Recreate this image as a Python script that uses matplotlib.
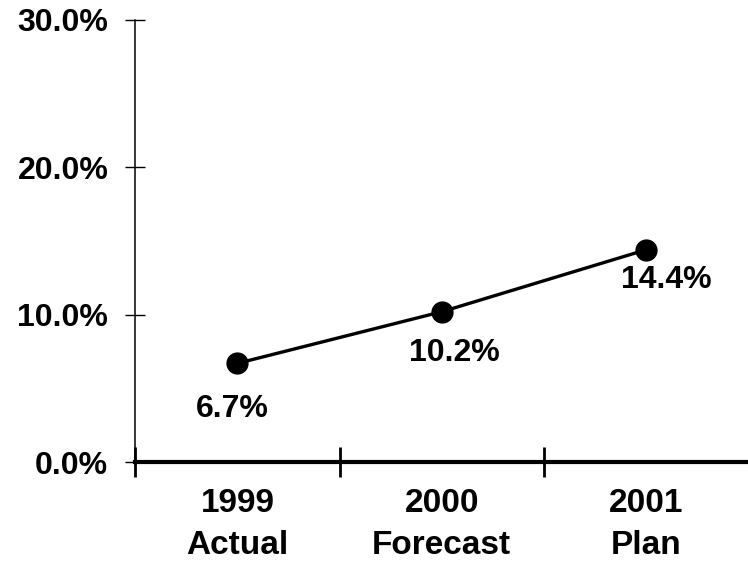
import matplotlib.pyplot as plt

# data
categories = ["1999\nActual", "2000\nForecast", "2001\nPlan"]
values = [6.7, 10.2, 14.4]
labels = ["6.7%", "10.2%", "14.4%"]
y_ticks = [0, 10, 20, 30]

# label offsets (points) relative to each marker
label_offsets = [(-4, -33), (9, -30), (15, -22)]

plt.rcParams['font.family'] = ['Liberation Sans', 'DejaVu Sans']
plt.rcParams['font.weight'] = 'bold'

fig = plt.figure(figsize=(7.48, 5.67), dpi=100)
ax = fig.add_axes([0.181, 0.185, 0.819, 0.78])

x = list(range(len(categories)))
ax.plot(x, values, color='black', linewidth=2.4, marker='o',
        markersize=15, markerfacecolor='black', zorder=3)

for xi, v, lab, off in zip(x, values, labels, label_offsets):
    ax.annotate(lab, (xi, v), xytext=off, textcoords='offset points',
                ha='center', va='center', fontsize=23, fontweight='bold')

ax.set_xlim(-0.5, 2.5)
ax.set_ylim(0, 30)

ax.set_yticks(y_ticks)
ax.set_yticklabels([f"{t:.1f}%" for t in y_ticks], fontsize=23, fontweight='bold')
ax.tick_params(axis='y', direction='inout', length=15, width=1, pad=12)

ax.set_xticks(x)
ax.set_xticklabels(categories, fontsize=24, fontweight='bold', linespacing=1.45)
ax.tick_params(axis='x', which='major', length=0, pad=19)
ax.set_xticks([-0.5, 0.5, 1.5], minor=True)
ax.tick_params(axis='x', which='minor', direction='inout', length=22, width=2)

ax.spines['top'].set_visible(False)
ax.spines['right'].set_visible(False)
ax.spines['left'].set_linewidth(1.1)
ax.spines['bottom'].set_linewidth(3)
ax.spines['bottom'].set_zorder(4)

plt.savefig('out.png', dpi=100)
